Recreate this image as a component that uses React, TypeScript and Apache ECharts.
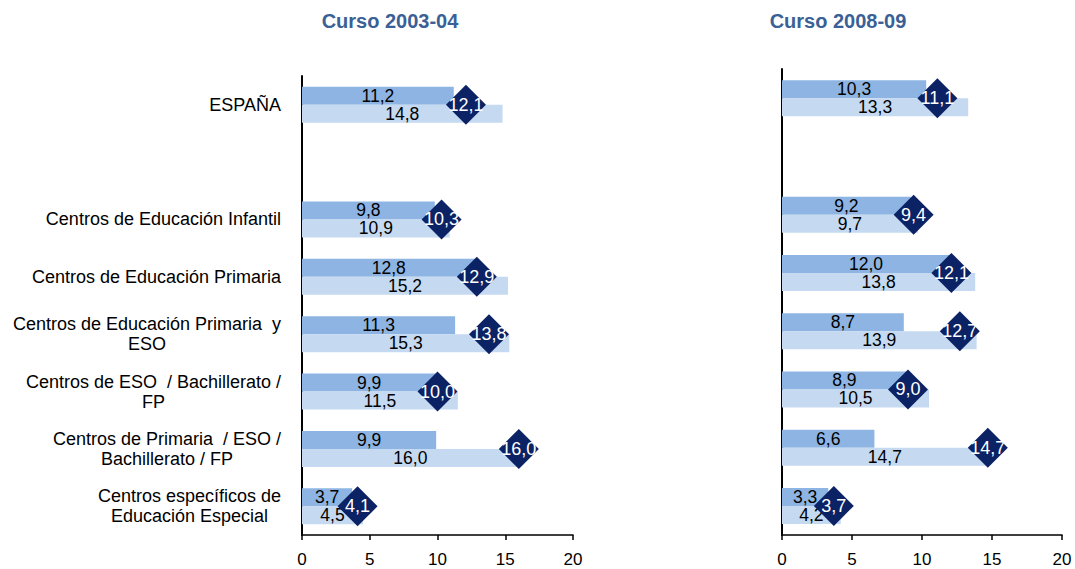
import React, { useEffect, useRef } from "react";
import * as echarts from "echarts";

const categories = [
  "ESPAÑA",
  "",
  "Centros de Educación Infantil",
  "Centros de Educación Primaria",
  "Centros de Educación Primaria  y\nESO",
  "Centros de ESO  / Bachillerato /\nFP",
  "Centros de Primaria  / ESO /\nBachillerato / FP",
  "Centros específicos de\nEducación Especial",
];

const titles = ["Curso 2003-04", "Curso 2008-09"];

// Curso 2003-04
const a2003: (number | null)[] = [11.2, null, 9.8, 12.8, 11.3, 9.9, 9.9, 3.7];
const b2003: (number | null)[] = [14.8, null, 10.9, 15.2, 15.3, 11.5, 16.0, 4.5];
const c2003: (number | null)[] = [12.1, null, 10.3, 12.9, 13.8, 10.0, 16.0, 4.1];

// Curso 2008-09
const a2008: (number | null)[] = [10.3, null, 9.2, 12.0, 8.7, 8.9, 6.6, 3.3];
const b2008: (number | null)[] = [13.3, null, 9.7, 13.8, 13.9, 10.5, 14.7, 4.2];
const c2008: (number | null)[] = [11.1, null, 9.4, 12.1, 12.7, 9.0, 14.7, 3.7];

const xTicks = { min: 0, max: 20, interval: 5 };

const FONT = "'Liberation Sans', Arial, sans-serif";
const fmt = (v: number) => v.toFixed(1).replace(".", ",");

export default function App() {
  const ref = useRef<HTMLDivElement>(null);
  useEffect(() => {
    document.body.style.margin = "0";
    if (!ref.current) return;
    const chart = echarts.init(ref.current, undefined, { renderer: "svg" });

    const grids = [
      { left: 302, width: 271, top: 76, bottom: 34 },
      { left: 782, width: 280, top: 69, bottom: 34 },
    ];

    const xAxes = grids.map((_, i) => ({
      type: "value",
      gridIndex: i,
      min: xTicks.min,
      max: xTicks.max,
      interval: xTicks.interval,
      axisLine: { show: true, lineStyle: { color: "#000", width: 1.5 } },
      axisTick: { show: true, length: 5, lineStyle: { color: "#000", width: 1.5 } },
      splitLine: { show: false },
      axisLabel: { color: "#000", fontSize: 17, fontFamily: FONT, margin: 16 },
    }));

    const yAxes = grids.map((_, i) => ({
      type: "category",
      gridIndex: i,
      data: categories,
      inverse: true,
      axisLine: { show: true, onZero: false, lineStyle: { color: "#000", width: 2 } },
      axisTick: { show: false },
      axisLabel: {
        show: i === 0,
        margin: 21,
        align: "right",
        formatter: (v: string) =>
          v
            .split("\n")
            .map((l) => `{a|${l}}`)
            .join("\n"),
        rich: {
          a: {
            fontSize: 18,
            fontFamily: FONT,
            color: "#000",
            align: "center",
            lineHeight: 20,
          },
        },
      },
    }));

    const sets = [
      [a2003, b2003, c2003],
      [a2008, b2008, c2008],
    ];

    const series: any[] = [];
    sets.forEach(([a, b, c], gi) => {
      const barLabel = {
        show: true,
        position: "inside",
        color: "#000",
        fontSize: 17.5,
        fontFamily: FONT,
        formatter: (p: any) => fmt(p.value),
      };
      series.push({
        type: "bar",
        name: "A",
        xAxisIndex: gi,
        yAxisIndex: gi,
        data: a,
        barWidth: 18,
        barGap: "0%",
        itemStyle: { color: "#8DB4E2" },
        label: barLabel,
        z: 2,
      });
      series.push({
        type: "bar",
        name: "B",
        xAxisIndex: gi,
        yAxisIndex: gi,
        data: b,
        barWidth: 18,
        barGap: "0%",
        itemStyle: { color: "#C5D9F1" },
        label: barLabel,
        z: 2,
      });
      series.push({
        type: "scatter",
        name: "C",
        xAxisIndex: gi,
        yAxisIndex: gi,
        data: c
          .map((v, i) => (v == null ? null : [v, i]))
          .filter((d) => d !== null),
        symbol: "diamond",
        symbolSize: 40,
        itemStyle: { color: "#0B2265", opacity: 1 },
        label: {
          show: true,
          position: "inside",
          color: "#fff",
          fontSize: 18,
          fontFamily: FONT,
          formatter: (p: any) => fmt(p.value[0]),
        },
        z: 5,
      });
    });

    chart.setOption({
      animation: false,
      backgroundColor: "#fff",
      grid: grids,
      xAxis: xAxes,
      yAxis: yAxes,
      series,
      graphic: [
        {
          type: "text",
          x: 390,
          y: 21,
          style: {
            text: titles[0],
            fill: "#3A6096",
            fontSize: 20,
            fontWeight: "bold",
            fontFamily: FONT,
            align: "center",
            verticalAlign: "middle",
          },
        },
        {
          type: "text",
          x: 838,
          y: 21,
          style: {
            text: titles[1],
            fill: "#3A6096",
            fontSize: 20,
            fontWeight: "bold",
            fontFamily: FONT,
            align: "center",
            verticalAlign: "middle",
          },
        },
      ],
    });
    return () => chart.dispose();
  }, []);
  return <div ref={ref} style={{ width: 1075, height: 569 }} />;
}
